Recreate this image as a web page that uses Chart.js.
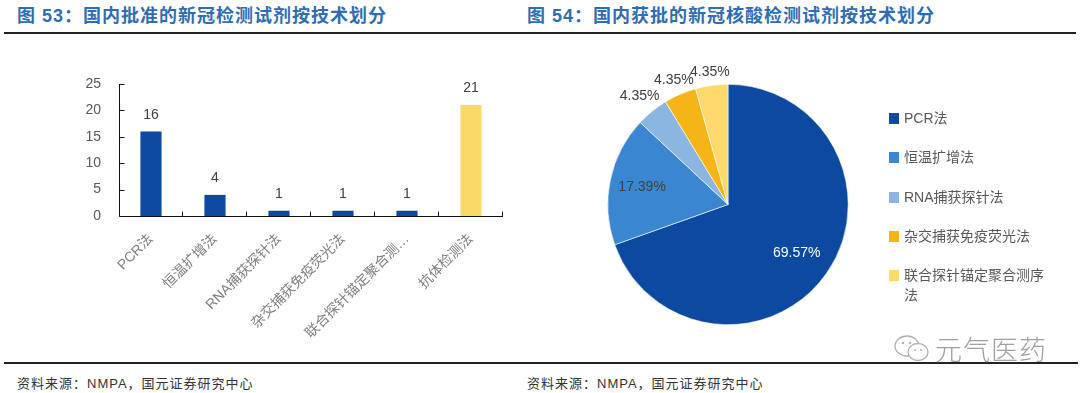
<!DOCTYPE html>
<html>
<head>
<meta charset="utf-8">
<script src="https://cdn.jsdelivr.net/npm/chart.js@4"></script>
<style>
  html, body { margin: 0; padding: 0; background: #fff; }
  body { width: 1080px; height: 393px; position: relative; overflow: hidden;
         font-family: "Liberation Sans", "Noto Sans CJK SC", sans-serif; }
  .title { position: absolute; top: 5px; font-size: 18px; font-weight: bold; color: #2f6db5;
           letter-spacing: 1px; white-space: nowrap; line-height: 22px; }
  .rule { position: absolute; left: 4px; width: 1072px; height: 2px; background: #222; }
  .src { position: absolute; top: 373px; font-size: 13px; color: #333; white-space: nowrap; letter-spacing: 1px; }
  canvas { position: absolute; top: 0; }
  #legend { position: absolute; left: 889px; top: 108px; width: 165px; }
  .item { display: flex; align-items: flex-start; margin-bottom: 19.3px; font-size: 14px;
          line-height: 20px; color: #595959; }
  .sw { width: 10px; height: 11px; margin-top: 5px; margin-right: 5px; flex: none; }
  .item span { width: 148px; }
  #mark { position: absolute; left: 893px; top: 329px; color: #a0a0a0; font-size: 27px;
          font-weight: 300; letter-spacing: 1px; display: flex; align-items: center; }
</style>
</head>
<body>
<div class="title" style="left:17px">图 53：国内批准的新冠检测试剂按技术划分</div>
<div class="title" style="left:527px">图 54：国内获批的新冠核酸检测试剂按技术划分</div>
<div class="rule" style="top:32px"></div>
<div class="rule" style="top:362px;width:1074px"></div>
<div class="src" style="left:17px">资料来源：NMPA，国元证券研究中心</div>
<div class="src" style="left:527px">资料来源：NMPA，国元证券研究中心</div>

<canvas id="bar" width="540" height="393" style="left:0"></canvas>
<canvas id="pie" width="540" height="393" style="left:540px"></canvas>
<div id="legend"></div>
<div id="mark">
  <svg width="40" height="30" viewBox="0 0 40 30">
    <ellipse cx="14" cy="12" rx="12" ry="10" fill="none" stroke="#b0b0b0" stroke-width="1.3"/>
    <ellipse cx="25" cy="18" rx="10" ry="8.5" fill="#fff" stroke="#b0b0b0" stroke-width="1.3"/>
    <circle cx="10" cy="9" r="1.2" fill="#b0b0b0"/><circle cx="17" cy="9" r="1.2" fill="#b0b0b0"/>
    <circle cx="22" cy="16" r="1" fill="#b0b0b0"/><circle cx="28" cy="16" r="1" fill="#b0b0b0"/>
  </svg>
  <span style="margin-left:2px">元气医药</span>
</div>

<script>
// 图53 按技术划分（个数）
const barCategories = ['PCR法', '恒温扩增法', 'RNA捕获探针法', '杂交捕获免疫荧光法', '联合探针锚定聚合测序法', '抗体检测法'];
const barTickLabels = ['PCR法', '恒温扩增法', 'RNA捕获探针法', '杂交捕获免疫荧光法', '联合探针锚定聚合测…', '抗体检测法'];
const barValues = [16, 4, 1, 1, 1, 21];
const yTicks = [0, 5, 10, 15, 20, 25];

// 图54 核酸检测试剂
const pieCategories = ['PCR法', '恒温扩增法', 'RNA捕获探针法', '杂交捕获免疫荧光法', '联合探针锚定聚合测序法'];
const pieValues = [16, 4, 1, 1, 1];

const BLUE = '#0b4aa0';
const barColors = [BLUE, BLUE, BLUE, BLUE, BLUE, '#fad868'];
const pieColors = ['#0b4aa0', '#3a86d0', '#8cb6e2', '#f5b418', '#fdd86c'];
const NUM_FONT = '"Liberation Sans", "Noto Sans CJK SC", sans-serif';

// axis lines with inward ticks
const innerAxes = {
  id: 'innerAxes',
  afterDraw(chart) {
    const { ctx, chartArea: a, scales: { x, y } } = chart;
    ctx.save();
    ctx.strokeStyle = '#111';
    ctx.lineWidth = 1;
    ctx.beginPath();
    const lx = Math.round(a.left) + 0.5, by = Math.round(a.bottom) + 0.5;
    ctx.moveTo(lx, a.top); ctx.lineTo(lx, by); ctx.lineTo(a.right, by);
    yTicks.forEach(v => {
      const py = Math.round(y.getPixelForValue(v)) + 0.5;
      ctx.moveTo(lx, py); ctx.lineTo(lx + 5, py);
    });
    const n = barValues.length;
    for (let i = 1; i <= n; i++) {
      const px = Math.round(i < n ? (x.getPixelForValue(i - 1) + x.getPixelForValue(i)) / 2 : a.right) - 0.5;
      ctx.moveTo(px, by); ctx.lineTo(px, by - 5);
    }
    ctx.stroke();
    ctx.restore();
  }
};

const barValueLabels = {
  id: 'barValueLabels',
  afterDatasetsDraw(chart) {
    const { ctx } = chart;
    const meta = chart.getDatasetMeta(0);
    ctx.save();
    ctx.font = '14px ' + NUM_FONT;
    ctx.fillStyle = '#404040';
    ctx.textAlign = 'center';
    ctx.textBaseline = 'alphabetic';
    meta.data.forEach((bar, i) => ctx.fillText(String(barValues[i]), bar.x, bar.y - 13));
    ctx.restore();
  }
};

new Chart(document.getElementById('bar'), {
  type: 'bar',
  data: {
    labels: barTickLabels,
    datasets: [{ data: barValues, backgroundColor: barColors, barPercentage: 0.33, categoryPercentage: 1 }]
  },
  options: {
    responsive: false,
    animation: false,
    layout: { padding: { left: 0, right: 37, top: 84, bottom: 0 } },
    plugins: { legend: { display: false }, tooltip: { enabled: false } },
    scales: {
      x: {
        grid: { display: false }, border: { display: false },
        ticks: { minRotation: 45, maxRotation: 45, autoSkip: false, padding: 7,
                 color: '#7f7f7f', font: { size: 14, family: NUM_FONT } },
        afterFit(s) { s.height = 177; }
      },
      y: {
        min: 0, max: 25,
        grid: { display: false }, border: { display: false },
        ticks: { stepSize: 5, padding: 10, color: '#595959', font: { size: 14, family: NUM_FONT } },
        afterFit(s) { s.width = 119; }
      }
    }
  },
  plugins: [innerAxes, barValueLabels]
});

// percentage labels, radius as a fraction of the pie radius
const labelReach = [0.70, 0.73, 1.165, 1.13, 1.11];
const pieLabels = {
  id: 'pieLabels',
  afterDatasetsDraw(chart) {
    const { ctx } = chart;
    const total = pieValues.reduce((s, v) => s + v, 0);
    const meta = chart.getDatasetMeta(0);
    ctx.save();
    ctx.font = '14px ' + NUM_FONT;
    ctx.textAlign = 'center';
    ctx.textBaseline = 'middle';
    meta.data.forEach((arc, i) => {
      const mid = (arc.startAngle + arc.endAngle) / 2;
      const r = arc.outerRadius * labelReach[i];
      ctx.fillStyle = i === 0 ? '#fff' : '#404040';
      ctx.fillText((pieValues[i] / total * 100).toFixed(2) + '%', arc.x + Math.cos(mid) * r, arc.y + Math.sin(mid) * r);
    });
    ctx.restore();
  }
};

new Chart(document.getElementById('pie'), {
  type: 'pie',
  data: {
    labels: pieCategories,
    datasets: [{ data: pieValues, backgroundColor: pieColors, borderColor: '#fff', borderWidth: 0.6 }]
  },
  options: {
    responsive: false,
    animation: false,
    layout: { padding: { left: 67, right: 231, top: 84, bottom: 68 } },
    plugins: { legend: { display: false }, tooltip: { enabled: false } }
  },
  plugins: [pieLabels]
});

// legend
const legend = document.getElementById('legend');
pieCategories.forEach((name, i) => {
  const row = document.createElement('div');
  row.className = 'item';
  row.innerHTML = '<div class="sw" style="background:' + pieColors[i] + '"></div><span>' + name + '</span>';
  legend.appendChild(row);
});
</script>
</body>
</html>
